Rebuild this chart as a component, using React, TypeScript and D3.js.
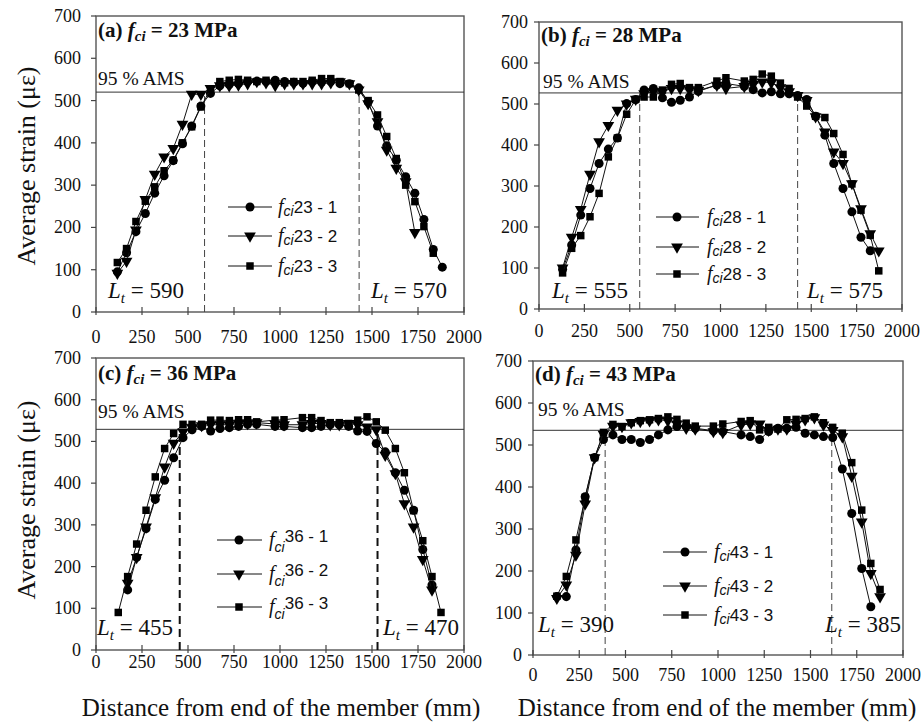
import React from 'react';
import * as d3ns from 'd3';

const d3: any = (d3ns as any).scaleLinear ? d3ns : (d3ns as any).default;

// ---------- DATA ----------
const xTicks = [0, 250, 500, 750, 1000, 1250, 1500, 1750, 2000];
const yTicks = [0, 100, 200, 300, 400, 500, 600, 700];

const xA = [116,166,217,268,319,370,420,470,520,570,622,673,724,774,824,874,924,974,1025,1075,1125,1175,1226,1276,1326,1377,1428,1479,1530,1580,1632,1683,1733,1782,1833,1882];
const a1 = [95,140,190,233,281,322,358,398,440,487,517,535,538,540,545,546,545,548,545,543,541,545,544,545,540,540,530,497,440,393,359,320,281,219,148,106];
const a2 = [92,120,194,266,326,367,387,444,515,515,529,535,535,537,540,545,542,536,540,540,540,540,540,542,545,540,525,493,450,383,340,308,188,null,null,null];
const a3 = [117,150,214,262,296,334,359,400,438,485,527,545,548,550,548,545,548,545,542,545,545,548,552,552,545,540,525,500,466,415,363,300,261,202,139,null];

const xB = [130,180,230,281,331,382,432,483,533,579,630,680,730,778,829,878,980,1030,1131,1180,1230,1280,1330,1378,1425,1475,1524,1575,1624,1675,1724,1774,1825,1872];
const b1 = [97,156,229,294,355,390,417,501,511,534,538,515,504,509,517,531,546,550,543,535,527,530,525,525,521,511,470,424,355,294,237,175,142,null];
const b2 = [100,175,243,329,408,448,485,500,512,525,530,530,538,538,535,533,546,538,543,548,554,552,540,530,521,509,469,432,383,355,306,245,184,142];
const b3 = [88,148,179,225,282,371,417,475,511,517,517,534,548,550,540,540,556,564,556,560,573,568,551,538,517,495,470,467,428,377,305,241,180,93];

const xC = [121,172,221,272,322,373,422,473,522,574,623,674,725,775,824,873,973,1022,1122,1172,1223,1273,1322,1373,1422,1473,1523,1572,1627,1676,1726,1776,1826,1875];
const c1 = [null,144,222,291,361,407,461,509,528,536,525,531,533,536,541,541,536,536,533,533,536,540,540,536,525,524,495,475,425,383,335,241,156,null];
const c2 = [null,160,222,295,365,439,496,523,533,538,540,540,540,543,543,545,542,540,540,543,543,540,540,543,540,535,528,467,423,351,295,217,144,null];
const c3 = [90,176,254,335,415,483,519,541,541,541,551,551,550,552,552,547,551,552,557,557,550,545,545,543,551,559,547,527,483,425,334,262,176,90];

const xD = [129,180,232,282,333,381,432,481,531,580,630,678,729,778,828,877,975,1026,1125,1174,1225,1274,1324,1372,1422,1471,1521,1570,1620,1672,1723,1777,1826,1876];
const d1 = [139,139,250,377,470,513,524,513,513,506,513,524,536,544,544,540,534,532,524,520,513,532,540,540,542,528,524,520,518,443,337,206,115,null];
const d2 = [135,167,238,360,470,526,545,544,553,556,558,560,558,550,540,538,532,530,548,550,550,535,538,538,550,560,565,548,535,520,426,317,194,139];
const d3v = [140,187,274,375,470,530,549,544,553,558,560,563,567,561,552,545,545,550,556,558,536,542,538,560,561,563,567,553,542,528,458,345,218,156];

const panelLetters = ['a', 'b', 'c', 'd'];
const fciValues = [23, 28, 36, 43];
const amsValues = [520, 527, 529, 535];
const ltLeft = [590, 555, 455, 390];
const ltRight = [570, 575, 470, 385];
const seriesSuffix = ['1', '2', '3'];
const yAxisLabel = 'Average strain (με)';
const xAxisLabel = 'Distance from end of the member (mm)';
const amsLabel = '95 % AMS';

const panelX = [xA, xB, xC, xD];
const panelY = [[a1, a2, a3], [b1, b2, b3], [c1, c2, c3], [d1, d2, d3v]];

// ---------- LAYOUT ----------
const layout = [
  { l: 96, r: 464, t: 16, b: 312, xlab: 343, ygap: 15, title: 21, ams: 7, amsX: 98, ltL: [108, 298], ltR: [371, 298], leg: [228, 272, 250, 278, [207, 236, 266]], dashW: 1, dashC: '#444', dashA: '7,4', legSub: 3, legSup: 0 },
  { l: 539, r: 902, t: 22, b: 309, xlab: 337, ygap: 11, title: 20, ams: 5, amsX: 543, ltL: [552, 298], ltR: [807, 298], leg: [656, 699, 677, 707, [217, 247, 274]], dashW: 1, dashC: '#444', dashA: '7,4', legSub: 3, legSup: 0 },
  { l: 96, r: 464, t: 358, b: 650, xlab: 668, ygap: 15, title: 22, ams: 11, amsX: 98, ltL: [97, 635], ltR: [383, 635], leg: [217, 262, 239, 269, [540, 574, 607]], dashW: 2, dashC: '#111', dashA: '8,5', legSub: 6, legSup: 4 },
  { l: 533, r: 903, t: 361, b: 655, xlab: 681, ygap: 11, title: 20, ams: 14, amsX: 538, ltL: [538, 632], ltR: [825, 632], leg: [663, 707, 685, 714, [552, 586, 615]], dashW: 1, dashC: '#444', dashA: '7,4', legSub: 3, legSup: 0 },
];

const serif = '"Liberation Serif", "Times New Roman", serif';
const sans = '"Liberation Sans", Arial, sans-serif';

const symbols = [d3.symbolCircle, d3.symbolTriangle, d3.symbolSquare];
const symSizes = [64, 60, 56];

function Marker({ x, y, k }: { x: number; y: number; k: number }) {
  const p = d3.symbol().type(symbols[k]).size(symSizes[k])() as string;
  const rot = k === 1 ? ' rotate(180)' : '';
  return <path d={p} transform={`translate(${x},${y})${rot}`} fill="#000" />;
}

function Panel({ i }: { i: number }) {
  const L = layout[i];
  const xs = d3.scaleLinear().domain([0, 2000]).range([L.l, L.r]);
  const ys = d3.scaleLinear().domain([0, 700]).range([L.b, L.t]);
  const xArr = panelX[i];
  const line = d3
    .line()
    .defined((d: any) => d[1] !== null)
    .x((d: any) => xs(d[0]))
    .y((d: any) => ys(d[1]));
  const [lx1, lx2, lmx, ltx, rows] = L.leg as [number, number, number, number, number[]];
  const amsY = ys(amsValues[i]);
  return (
    <g>
      <rect x={L.l} y={L.t} width={L.r - L.l} height={L.b - L.t} fill="none" stroke="#555" strokeWidth={1.4} />
      {yTicks.map((t) => (
        <g key={'y' + t}>
          <line x1={L.l - 5} x2={L.l} y1={ys(t)} y2={ys(t)} stroke="#444" strokeWidth={1.2} />
          <text x={L.l - L.ygap} y={ys(t) + 6} textAnchor="end" fontFamily={serif} fontSize={18} fill="#111">{t}</text>
        </g>
      ))}
      {xTicks.map((t) => (
        <g key={'x' + t}>
          <line x1={xs(t)} x2={xs(t)} y1={L.b - 5} y2={L.b + 3} stroke="#444" strokeWidth={1.2} />
          <text x={xs(t)} y={L.xlab} textAnchor="middle" fontFamily={serif} fontSize={18} fill="#111">{t}</text>
        </g>
      ))}
      <line x1={L.l} x2={L.r} y1={amsY} y2={amsY} stroke="#333" strokeWidth={1} />
      <text x={L.amsX} y={amsY - L.ams} fontFamily={serif} fontSize={19.5} fill="#111">{amsLabel}</text>
      {[ltLeft[i], 2000 - ltRight[i]].map((v, j) => (
        <line key={'d' + j} x1={xs(v)} x2={xs(v)} y1={ys(0)} y2={amsY} stroke={L.dashC} strokeWidth={L.dashW} strokeDasharray={L.dashA} />
      ))}
      {panelY[i].map((ser, k) => {
        const pts = xArr.map((x, j) => [x, ser[j]]);
        return (
          <g key={'s' + k}>
            <path d={line(pts) as string} fill="none" stroke="#111" strokeWidth={1} />
            {pts.filter((p) => p[1] !== null).map((p, j) => (
              <Marker key={j} x={xs(p[0])} y={ys(p[1] as number)} k={k} />
            ))}
          </g>
        );
      })}
      <text x={L.l + 2} y={L.t + L.title} fontFamily={serif} fontWeight="bold" fontSize={21} fill="#111">
        ({panelLetters[i]}){' '}
        <tspan fontStyle="italic">f</tspan>
        <tspan fontStyle="italic" fontSize={15} dy={4}>ci</tspan>
        <tspan dy={-4}> = {fciValues[i]} MPa</tspan>
      </text>
      {[[L.ltL, ltLeft[i]], [L.ltR, ltRight[i]]].map(([pos, v], j) => (
        <text key={'lt' + j} x={(pos as number[])[0]} y={(pos as number[])[1]} fontFamily={serif} fontSize={23} fill="#111">
          <tspan fontStyle="italic">L</tspan>
          <tspan fontStyle="italic" fontSize={15} dy={5}>t</tspan>
          <tspan dy={-5}> = {v as number}</tspan>
        </text>
      ))}
      {rows.map((ry, k) => (
        <g key={'lg' + k}>
          <line x1={lx1} x2={lx2} y1={ry} y2={ry} stroke="#111" strokeWidth={1} />
          <Marker x={lmx} y={ry} k={k} />
          <text x={ltx} y={ry + 6} fontFamily={sans} fontSize={17} fill="#111">
            <tspan fontFamily={serif} fontStyle="italic" fontSize={20}>f</tspan>
            <tspan fontStyle="italic" fontSize={14} dy={L.legSub}>ci</tspan>
            <tspan dy={-L.legSub - L.legSup}>{fciValues[i]} - {seriesSuffix[k]}</tspan>
          </text>
        </g>
      ))}
    </g>
  );
}

export default function App() {
  return (
    <svg width={921} height={727} style={{ position: 'absolute', left: 0, top: 0, background: '#fff' }}>
      <rect width={921} height={727} fill="#fff" />
      {[0, 1, 2, 3].map((i) => (
        <Panel key={i} i={i} />
      ))}
      <text transform="translate(35,166) rotate(-90)" textAnchor="middle" fontFamily={serif} fontSize={26} fill="#111">{yAxisLabel}</text>
      <text transform="translate(35,500) rotate(-90)" textAnchor="middle" fontFamily={serif} fontSize={26} fill="#111">{yAxisLabel}</text>
      <text x={281} y={716} textAnchor="middle" fontFamily={serif} fontSize={25} fill="#111">{xAxisLabel}</text>
      <text x={717} y={716} textAnchor="middle" fontFamily={serif} fontSize={25} fill="#111">{xAxisLabel}</text>
    </svg>
  );
}
